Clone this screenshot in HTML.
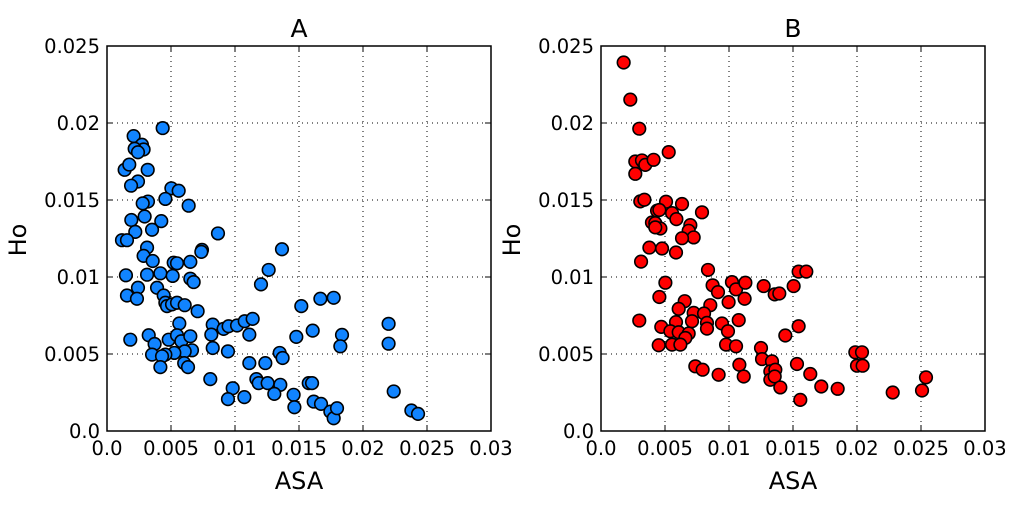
<!DOCTYPE html>
<html><head><meta charset="utf-8"><style>
html,body{margin:0;padding:0;background:#fff;}
svg text{font-family:"DejaVu Sans","Liberation Sans",sans-serif;fill:#000;}
</style></head><body>
<svg id="chart" width="1024" height="509" viewBox="0 0 1024 509" xmlns="http://www.w3.org/2000/svg"></svg>
<script>
const xTicks=[0,0.005,0.01,0.015,0.02,0.025,0.03];
const xTickLabels=["0.0","0.005","0.01","0.015","0.02","0.025","0.03"];
const yTicks=[0,0.005,0.01,0.015,0.02,0.025];
const yTickLabels=["0.0","0.005","0.01","0.015","0.02","0.025"];
// values in units of 1e-3
const aX=[4.35,2.08,2.73,2.86,2.16,2.42,1.38,1.74,3.18,2.42,1.88,5.03,5.6,4.56,3.2,2.79,6.38,2.94,1.9,4.24,2.21,3.52,8.67,1.17,1.56,3.13,2.86,3.57,7.42,7.37,13.67,5.21,5.47,6.51,12.63,1.48,3.13,4.17,5.13,6.51,6.77,12.03,2.42,3.91,1.56,2.34,4.43,4.56,4.69,5.08,5.47,6.07,7.08,15.18,16.67,17.71,8.26,9.11,9.5,10.16,10.76,11.38,8.15,11.12,14.79,16.07,18.36,18.23,22.0,22.0,5.65,1.82,3.26,3.72,4.82,5.47,5.81,6.51,6.64,6.07,5.26,4.56,3.52,4.3,4.17,6.03,6.33,8.26,9.45,13.49,13.72,11.12,12.37,8.07,9.82,9.45,10.73,11.67,11.85,12.55,13.54,13.07,14.58,14.64,15.76,16.02,16.15,16.72,17.45,17.71,17.97,22.4,23.78,24.3];
const aY=[19.67,19.15,18.59,18.28,18.33,18.1,16.96,17.3,16.96,16.2,15.93,15.76,15.6,15.07,14.9,14.78,14.63,13.93,13.7,13.63,12.93,13.07,12.83,12.39,12.39,11.91,11.37,11.04,11.76,11.63,11.8,10.93,10.89,10.98,10.46,10.11,10.15,10.24,10.07,9.89,9.67,9.52,9.3,9.3,8.8,8.59,8.8,8.33,8.11,8.22,8.33,8.17,7.78,8.11,8.59,8.65,6.91,6.63,6.8,6.85,7.13,7.28,6.26,6.26,6.11,6.52,6.24,5.5,6.96,5.67,6.98,5.93,6.22,5.65,5.93,6.22,5.83,6.15,5.24,5.17,5.07,4.96,4.96,4.85,4.15,4.41,4.15,5.39,5.17,5.07,4.74,4.41,4.41,3.37,2.78,2.07,2.2,3.37,3.11,3.11,3.0,2.41,2.35,1.54,3.11,3.11,1.91,1.76,1.26,0.83,1.48,2.57,1.33,1.11];
const bX=[1.77,2.29,2.99,5.29,2.68,3.2,3.46,4.11,2.68,3.07,3.39,5.08,6.33,4.38,4.56,5.55,7.89,5.89,3.98,4.24,4.64,4.24,6.98,6.85,7.24,6.33,3.78,4.77,5.86,3.13,8.36,5.03,8.72,9.14,10.23,10.55,11.28,11.22,12.71,13.57,13.93,15.05,15.44,16.04,4.56,6.54,8.54,9.97,6.07,7.24,8.05,10.76,2.99,5.86,7.11,8.28,9.45,15.44,4.71,5.42,6.07,6.85,6.59,8.28,9.92,14.4,4.51,5.55,6.2,9.77,10.55,12.5,12.58,13.36,15.31,7.37,7.94,9.19,10.81,11.15,13.23,13.62,13.23,13.57,14.01,16.35,17.21,18.49,15.57,19.87,20.39,20.0,20.44,22.79,25.08,25.39];
const bY=[23.93,21.52,19.63,18.11,17.5,17.57,17.28,17.61,16.7,14.91,15.02,14.89,14.74,14.3,14.35,14.15,14.2,13.76,13.54,13.5,13.15,13.22,13.37,13.0,12.57,12.52,11.91,11.85,11.59,11.0,10.46,9.63,9.46,9.02,9.67,9.2,9.63,8.59,9.41,8.87,8.93,9.41,10.35,10.35,8.7,8.43,8.17,8.37,7.93,7.67,7.63,7.2,7.17,7.07,7.13,7.02,6.98,6.8,6.76,6.48,6.41,6.33,6.04,6.65,6.48,6.2,5.57,5.61,5.61,5.61,5.5,5.39,4.67,4.52,4.35,4.2,3.98,3.65,4.3,3.54,3.87,3.98,3.33,3.54,2.83,3.7,2.89,2.74,2.02,5.11,5.11,4.24,4.24,2.5,2.63,3.48];

const NS="http://www.w3.org/2000/svg";
const svg=document.getElementById('chart');
function mk(tag,attrs,parent){const e=document.createElementNS(NS,tag);for(const k in attrs)e.setAttribute(k,attrs[k]);(parent||svg).appendChild(e);return e;}

function panel(id,x0,title,xs,ys,color){
  const y0=431,W=384,H=385;
  const sx=v=>x0+v/0.03*W, sy=v=>y0-v/0.025*H;
  const g=mk('g',{});
  
  
  xTicks.forEach((t,i)=>{
    if(i>0&&i<xTicks.length-1){const l=mk('line',{x1:sx(t),x2:sx(t),y1:y0-H,y2:y0,stroke:'#000','stroke-width':1,'stroke-dasharray':'1,4'},g);
    }
    mk('line',{x1:sx(t),x2:sx(t),y1:y0,y2:y0-6,stroke:'#000','stroke-width':1},g);
    mk('line',{x1:sx(t),x2:sx(t),y1:y0-H,y2:y0-H+6,stroke:'#000','stroke-width':1},g);
    const tx=mk('text',{x:sx(t),y:y0+24,'text-anchor':'middle','font-size':19.5},g);
    tx.textContent=xTickLabels[i];
    
  });
  yTicks.forEach((t,i)=>{
    if(i>0&&i<yTicks.length-1){const l=mk('line',{x1:x0,x2:x0+W,y1:sy(t),y2:sy(t),stroke:'#000','stroke-width':1,'stroke-dasharray':'1,4'},g);
    }
    mk('line',{x1:x0,x2:x0+6,y1:sy(t),y2:sy(t),stroke:'#000','stroke-width':1},g);
    mk('line',{x1:x0+W,x2:x0+W-6,y1:sy(t),y2:sy(t),stroke:'#000','stroke-width':1},g);
    const tx=mk('text',{x:x0-7,y:sy(t)+7,'text-anchor':'end','font-size':19.5},g);
    tx.textContent=yTickLabels[i];
    
  });
  xs.forEach((v,i)=>{
    const c=mk('circle',{cx:sx(v/1000),cy:sy(ys[i]/1000),r:6.3,fill:color,stroke:'#000','stroke-width':1.6},g);
    
    
  });
  const fr=mk('rect',{x:x0,y:y0-H,width:W,height:H,fill:'none',stroke:'#000','stroke-width':1.5},g);
  
  const tt=mk('text',{x:x0+W/2,y:37,'text-anchor':'middle','font-size':25},g);
  tt.textContent=title;
  const xl=mk('text',{x:x0+W/2,y:489,'text-anchor':'middle','font-size':24},g);
  xl.textContent='ASA';
  const yx=x0-81;
  const yl=mk('text',{x:yx,y:240,'text-anchor':'middle','font-size':24,transform:'rotate(-90 '+yx+' 240)'},g);
  yl.textContent='Ho';
}
panel('a',107,'A',aX,aY,'#1184ff');
panel('b',601,'B',bX,bY,'#ff0000');
</script>
</body></html>
